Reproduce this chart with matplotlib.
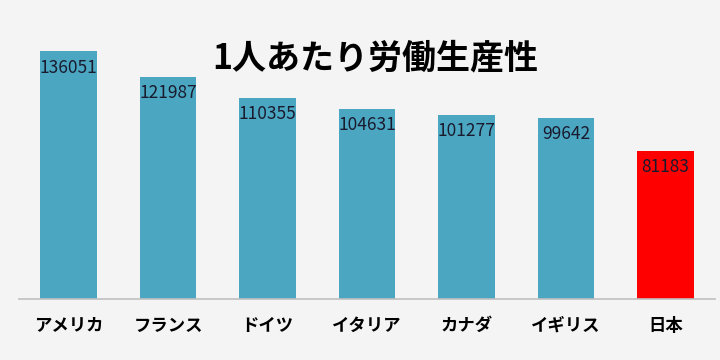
import matplotlib
matplotlib.use("Agg")
from matplotlib import pyplot as plt

plt.rcParams['font.family'] = ['Noto Sans CJK JP', 'DejaVu Sans']

countries = ["アメリカ", "フランス", "ドイツ", "イタリア", "カナダ", "イギリス", "日本"]
productivity = [136051, 121987, 110355, 104631, 101277, 99642, 81183]
title = "1人あたり労働生産性"

bg = "#f4f4f4"
colors = ["#4ba7c1"] * 6 + ["#ff0000"]

fig = plt.figure(figsize=(7.2, 3.6), dpi=100, facecolor=bg)
# axes spans x 19..715 px, y 20..298.5 px (from top)
ax = fig.add_axes([19 / 720, (360 - 298.5) / 360, 696 / 720, 278.5 / 360])
ax.set_facecolor(bg)

x = range(len(countries))
bars = ax.bar(x, productivity, width=0.57, color=colors)

for i, v in enumerate(productivity):
    ax.text(i, v - 4000, str(v), ha='center', va='top', fontsize=12.5,
            color="#1a1a2e")

ax.set_xlim(-0.5, len(countries) - 0.5)
ax.set_ylim(0, 153400)
ax.set_xticks(list(x))
ax.set_xticklabels(countries, fontsize=12.5, fontweight='bold')
ax.tick_params(axis='x', length=0, pad=13)
ax.set_yticks([])
for s in ['top', 'right', 'left']:
    ax.spines[s].set_visible(False)
ax.spines['bottom'].set_color("#c0c0c0")
ax.spines['bottom'].set_linewidth(1.2)

fig.text(375 / 720, 1 - 58 / 360, title, ha='center', va='center',
         fontsize=24.5, fontweight='bold', color='black')

fig.savefig("out.png", dpi=100, facecolor=bg)
